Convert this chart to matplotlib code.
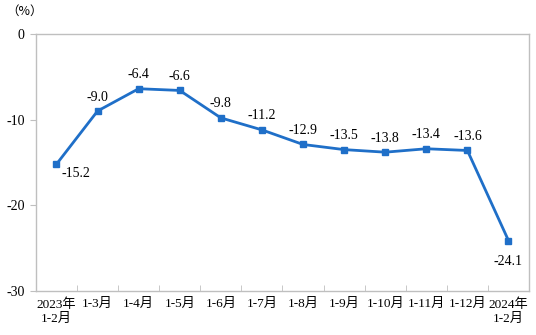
import matplotlib.pyplot as plt
import numpy as np

plt.rcParams['font.family'] = ['Liberation Serif', 'Noto Sans CJK SC']

months = ['2023年\n1-2月', '1-3月', '1-4月', '1-5月', '1-6月', '1-7月', '1-8月',
          '1-9月', '1-10月', '1-11月', '1-12月', '2024年\n1-2月']
values = [-15.2, -9.0, -6.4, -6.6, -9.8, -11.2, -12.9, -13.5, -13.8, -13.4, -13.6, -24.1]

fig = plt.figure(figsize=(5.36, 3.35), dpi=100)
ax = fig.add_axes([0.067, 0.131, 0.92, 0.768])

x = np.arange(len(values))
ax.plot(x, values, color='#1F6FC8', linewidth=2.0, marker='s', markersize=4.5)

for i, v in enumerate(values):
    if i == 0:
        ax.annotate('%.1f' % v, (i, v), xytext=(14, -7), textcoords='offset points',
                    ha='center', va='center', fontsize=10)
    elif i == len(values) - 1:
        ax.annotate('%.1f' % v, (i, v), xytext=(0, -15), textcoords='offset points',
                    ha='center', va='center', fontsize=10)
    else:
        ax.annotate('%.1f' % v, (i, v), xytext=(0, 10), textcoords='offset points',
                    ha='center', va='center', fontsize=10)

ax.set_xlim(-0.5, len(values) - 0.5)
ax.set_ylim(-30, 0)
ax.set_yticks([0, -10, -20, -30])
ax.set_yticklabels(['0', '-10', '-20', '-30'], fontsize=10)

# category labels in the middle, tick marks on the boundaries
ax.set_xticks(x)
ax.set_xticklabels(months, fontsize=9.5, linespacing=1.2, va='top')
ax.tick_params(axis='x', length=0, pad=5)
ax.set_xticks(np.arange(0.5, len(values) - 0.5), minor=True)
ax.tick_params(axis='x', which='minor', direction='in', length=4, color='#BFBFBF')
ax.tick_params(axis='y', direction='out', length=4, color='#BFBFBF', pad=4)

for s in ax.spines.values():
    s.set_color('#BFBFBF')
    s.set_linewidth(1.0)

fig.text(0.012, 0.965, '（%）', fontsize=9, ha='left', va='center',
         family=['Noto Sans CJK SC', 'Liberation Serif'])

fig.savefig('out.png', dpi=100)
